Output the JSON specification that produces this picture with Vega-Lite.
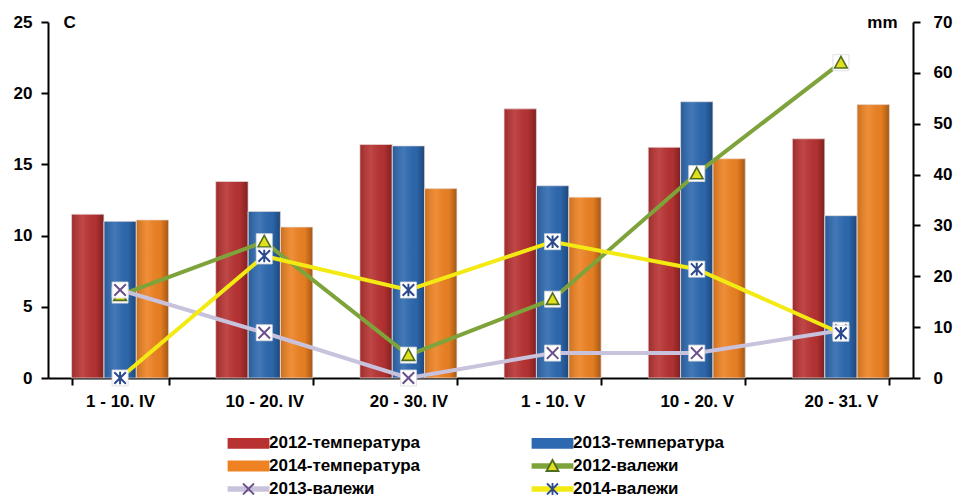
{
  "$schema": "https://vega.github.io/schema/vega-lite/v6.json",
  "width": 865,
  "height": 356,
  "autosize": {"type": "none"},
  "padding": {"left": 48, "top": 22, "right": 44, "bottom": 117},
  "background": "white",
  "config": {
    "view": {"stroke": null},
    "font": "Liberation Sans",
    "axis": {
      "domainColor": "black",
      "domainWidth": 2,
      "tickColor": "black",
      "tickWidth": 2,
      "tickSize": 7,
      "labelFont": "Liberation Sans",
      "labelFontSize": 17,
      "labelFontWeight": "bold",
      "labelColor": "black",
      "titleFont": "Liberation Sans",
      "titleFontSize": 17,
      "titleFontWeight": "bold",
      "titleColor": "black",
      "grid": false
    }
  },
  "datasets": {
    "temp": [
      {"cat": "1 - 10. IV", "series": "2012-температура", "value": 11.5},
      {"cat": "1 - 10. IV", "series": "2013-температура", "value": 11.0},
      {"cat": "1 - 10. IV", "series": "2014-температура", "value": 11.1},
      {"cat": "10 - 20. IV", "series": "2012-температура", "value": 13.8},
      {"cat": "10 - 20. IV", "series": "2013-температура", "value": 11.7},
      {"cat": "10 - 20. IV", "series": "2014-температура", "value": 10.6},
      {"cat": "20 - 30. IV", "series": "2012-температура", "value": 16.4},
      {"cat": "20 - 30. IV", "series": "2013-температура", "value": 16.3},
      {"cat": "20 - 30. IV", "series": "2014-температура", "value": 13.3},
      {"cat": "1 - 10. V", "series": "2012-температура", "value": 18.9},
      {"cat": "1 - 10. V", "series": "2013-температура", "value": 13.5},
      {"cat": "1 - 10. V", "series": "2014-температура", "value": 12.7},
      {"cat": "10 - 20. V", "series": "2012-температура", "value": 16.2},
      {"cat": "10 - 20. V", "series": "2013-температура", "value": 19.4},
      {"cat": "10 - 20. V", "series": "2014-температура", "value": 15.4},
      {"cat": "20 - 31. V", "series": "2012-температура", "value": 16.8},
      {"cat": "20 - 31. V", "series": "2013-температура", "value": 11.4},
      {"cat": "20 - 31. V", "series": "2014-температура", "value": 19.2}
    ],
    "precip": [
      {"cat": "1 - 10. IV", "series": "2012-валежи", "value": 16.3},
      {"cat": "10 - 20. IV", "series": "2012-валежи", "value": 26.8},
      {"cat": "20 - 30. IV", "series": "2012-валежи", "value": 4.5},
      {"cat": "1 - 10. V", "series": "2012-валежи", "value": 15.5},
      {"cat": "10 - 20. V", "series": "2012-валежи", "value": 40.2},
      {"cat": "20 - 31. V", "series": "2012-валежи", "value": 62.0},
      {"cat": "1 - 10. IV", "series": "2013-валежи", "value": 17.3},
      {"cat": "10 - 20. IV", "series": "2013-валежи", "value": 8.9},
      {"cat": "20 - 30. IV", "series": "2013-валежи", "value": 0},
      {"cat": "1 - 10. V", "series": "2013-валежи", "value": 4.9},
      {"cat": "10 - 20. V", "series": "2013-валежи", "value": 4.9},
      {"cat": "20 - 31. V", "series": "2013-валежи", "value": 9.4},
      {"cat": "1 - 10. IV", "series": "2014-валежи", "value": 0},
      {"cat": "10 - 20. IV", "series": "2014-валежи", "value": 24.0},
      {"cat": "20 - 30. IV", "series": "2014-валежи", "value": 17.3},
      {"cat": "1 - 10. V", "series": "2014-валежи", "value": 26.8},
      {"cat": "10 - 20. V", "series": "2014-валежи", "value": 21.4},
      {"cat": "20 - 31. V", "series": "2014-валежи", "value": 8.8}
    ]
  },
  "layer": [
    {
      "data": {"name": "temp"},
      "layer": [
        {
          "mark": {"type": "bar"},
          "encoding": {
            "x": {
              "field": "cat", "type": "nominal",
              "sort": ["1 - 10. IV", "10 - 20. IV", "20 - 30. IV", "1 - 10. V", "10 - 20. V", "20 - 31. V"],
              "scale": {"paddingInner": 0.327, "paddingOuter": 0.1635},
              "axis": {"title": null, "labelAngle": 0, "labelPadding": 8, "tickBand": "extent", "labelLimit": 300}
            },
            "xOffset": {
              "field": "series", "type": "nominal",
              "sort": ["2012-температура", "2013-температура", "2014-температура"],
              "scale": {"paddingInner": 0, "paddingOuter": 0}
            },
            "y": {
              "field": "value", "type": "quantitative",
              "scale": {"domain": [0, 25], "nice": false},
              "axis": {
                "values": [0, 5, 10, 15, 20, 25],
                "title": "C",
                "titleAngle": 0,
                "titleAlign": "left",
                "titleBaseline": "middle",
                "titleX": 15,
                "titleY": 0,
                "labelPadding": 9
              }
            },
            "color": {
              "field": "series", "type": "nominal",
              "scale": {
                "domain": ["2012-температура", "2013-температура", "2014-температура", "2012-валежи", "2013-валежи", "2014-валежи"],
                "range": ["#b83232", "#2d69b0", "#ee8222", "#7ea33b", "#c9c2dd", "#f2ea12"]
              },
              "legend": {
                "orient": "none",
                "direction": "horizontal",
                "legendX": 192,
                "legendY": 412.5,
                "columns": 2,
                "columnPadding": 108,
                "rowPadding": 2,
                "padding": 0,
                "title": null,
                "symbolSize": 100,
                "symbolStrokeWidth": 1.8,
                "labelOffset": 12,
                "labelFont": "Liberation Sans",
                "labelFontSize": 17,
                "labelFontWeight": "bold",
                "labelColor": "black",
                "labelLimit": 400,
                "zindex": 0,
                "encode": {
                  "symbols": {
                    "update": {
                      "shape": {"signal": "indexof(datum.value, 'темп') >= 0 ? 'M-4,-0.9H4V0.9H-4ZM0,-1.2L0,-1.2M0,1.2L0,1.2' : 'M-4,-0.35H4V0.35H-4ZM0,-1.2L0,-1.2M0,1.2L0,1.2'"},
                      "fill": {"scale": "color", "field": "value"},
                      "stroke": {"value": "transparent"},
                      "opacity": {"value": 1}
                    }
                  }
                }
              }
            }
          }
        },
        {
          "mark": {
            "type": "bar",
            "stroke": "#eadede",
            "strokeWidth": 0.7,
            "fill": {
              "gradient": "linear", "x1": 0, "y1": 0, "x2": 1, "y2": 0,
              "stops": [
                {"offset": 0, "color": "rgba(0,0,0,0.15)"},
                {"offset": 0.35, "color": "rgba(255,255,255,0.1)"},
                {"offset": 0.75, "color": "rgba(0,0,0,0.04)"},
                {"offset": 1, "color": "rgba(0,0,0,0.32)"}
              ]
            }
          },
          "encoding": {
            "x": {
              "field": "cat", "type": "nominal",
              "sort": ["1 - 10. IV", "10 - 20. IV", "20 - 30. IV", "1 - 10. V", "10 - 20. V", "20 - 31. V"]
            },
            "xOffset": {
              "field": "series", "type": "nominal",
              "sort": ["2012-температура", "2013-температура", "2014-температура"]
            },
            "y": {"field": "value", "type": "quantitative"}
          }
        }
      ]
    },
    {
      "data": {"name": "precip"},
      "layer": [
        {
          "mark": {"type": "line", "strokeWidth": 4},
          "encoding": {
            "x": {
              "field": "cat", "type": "nominal",
              "sort": ["1 - 10. IV", "10 - 20. IV", "20 - 30. IV", "1 - 10. V", "10 - 20. V", "20 - 31. V"]
            },
            "y": {
              "field": "value", "type": "quantitative",
              "scale": {"domain": [0, 70], "nice": false},
              "axis": {
                "orient": "right",
                "values": [0, 10, 20, 30, 40, 50, 60, 70],
                "title": "mm",
                "titleAngle": 0,
                "titleAlign": "right",
                "titleBaseline": "middle",
                "titleX": -16,
                "titleY": 0,
                "labelPadding": 13
              }
            },
            "color": {"field": "series", "type": "nominal", "legend": null}
          }
        },
        {
          "transform": [{"filter": "datum.series == '2012-валежи'"}],
          "mark": {"type": "point", "shape": "square", "size": 256, "filled": true, "fill": "white", "stroke": "#d9d9d9", "strokeWidth": 0.8, "opacity": 1},
          "encoding": {
            "x": {"field": "cat", "type": "nominal", "sort": ["1 - 10. IV", "10 - 20. IV", "20 - 30. IV", "1 - 10. V", "10 - 20. V", "20 - 31. V"]},
            "y": {"field": "value", "type": "quantitative"}
          }
        },
        {
          "transform": [{"filter": "datum.series == '2012-валежи'"}],
          "mark": {"type": "point", "size": 110, "filled": true, "strokeWidth": 1.6, "opacity": 1},
          "encoding": {
            "x": {"field": "cat", "type": "nominal", "sort": ["1 - 10. IV", "10 - 20. IV", "20 - 30. IV", "1 - 10. V", "10 - 20. V", "20 - 31. V"]},
            "y": {"field": "value", "type": "quantitative"},
            "shape": {
              "field": "series", "type": "nominal",
              "scale": {
                "domain": ["2012-температура", "2013-температура", "2014-температура", "2012-валежи", "2013-валежи", "2014-валежи", "~"],
                "range": [
                  "M-4,0L-4,0M4,0L4,0M0,-1.2L0,-1.2M0,1.2L0,1.2",
                  "M-4,0L-4,0M4,0L4,0M0,-1.2L0,-1.2M0,1.2L0,1.2",
                  "M-4,0L-4,0M4,0L4,0M0,-1.2L0,-1.2M0,1.2L0,1.2",
                  "M0,-1.2L1.2,1L-1.2,1ZM-4,0L-4,0M4,0L4,0M0,1.2L0,1.2",
                  "M-1.1,-1.1L1.1,1.1M1.1,-1.1L-1.1,1.1M-4,0L-4,0M4,0L4,0M0,-1.2L0,-1.2M0,1.2L0,1.2",
                  "M-1.1,-1.1L1.1,1.1M1.1,-1.1L-1.1,1.1M0,-1.2L0,1.2M-4,0L-4,0M4,0L4,0",
                  "M0,0L0,0"
                ]
              },
              "legend": {
                "orient": "none",
                "direction": "horizontal",
                "legendX": 192,
                "legendY": 412.5,
                "columns": 2,
                "columnPadding": 108,
                "rowPadding": 2,
                "padding": 0,
                "title": null,
                "symbolSize": 100,
                "symbolStrokeWidth": 1.8,
                "symbolOpacity": 1,
                "labelOffset": 12,
                "labelFont": "Liberation Sans",
                "labelFontSize": 17,
                "labelFontWeight": "bold",
                "labelColor": "transparent",
                "labelLimit": 400,
                "zindex": 1
              }
            },
            "fill": {
              "field": "series", "type": "nominal",
              "scale": {
                "domain": ["2012-температура", "2013-температура", "2014-температура", "2012-валежи", "2013-валежи", "2014-валежи", "~"],
                "range": ["transparent", "transparent", "transparent", "#e2e01c", "transparent", "transparent", "transparent"]
              },
              "legend": {
                "orient": "none",
                "direction": "horizontal",
                "legendX": 192,
                "legendY": 412.5,
                "columns": 2,
                "columnPadding": 108,
                "rowPadding": 2,
                "padding": 0,
                "title": null,
                "symbolSize": 100,
                "symbolStrokeWidth": 1.8,
                "symbolOpacity": 1,
                "labelOffset": 12,
                "labelFont": "Liberation Sans",
                "labelFontSize": 17,
                "labelFontWeight": "bold",
                "labelColor": "transparent",
                "labelLimit": 400,
                "zindex": 1
              }
            },
            "stroke": {
              "field": "series", "type": "nominal",
              "scale": {
                "domain": ["2012-температура", "2013-температура", "2014-температура", "2012-валежи", "2013-валежи", "2014-валежи", "~"],
                "range": ["transparent", "transparent", "transparent", "#4e6d20", "#6a4f8c", "#2b4a8c", "transparent"]
              },
              "legend": {
                "orient": "none",
                "direction": "horizontal",
                "legendX": 192,
                "legendY": 412.5,
                "columns": 2,
                "columnPadding": 108,
                "rowPadding": 2,
                "padding": 0,
                "title": null,
                "symbolSize": 100,
                "symbolStrokeWidth": 1.8,
                "symbolOpacity": 1,
                "labelOffset": 12,
                "labelFont": "Liberation Sans",
                "labelFontSize": 17,
                "labelFontWeight": "bold",
                "labelColor": "transparent",
                "labelLimit": 400,
                "zindex": 1
              }
            }
          }
        },
        {
          "transform": [{"filter": "datum.series == '2013-валежи'"}],
          "mark": {"type": "point", "shape": "square", "size": 256, "filled": true, "fill": "white", "stroke": "#d9d9d9", "strokeWidth": 0.8, "opacity": 1},
          "encoding": {
            "x": {"field": "cat", "type": "nominal", "sort": ["1 - 10. IV", "10 - 20. IV", "20 - 30. IV", "1 - 10. V", "10 - 20. V", "20 - 31. V"]},
            "y": {"field": "value", "type": "quantitative"}
          }
        },
        {
          "transform": [{"filter": "datum.series == '2013-валежи'"}],
          "mark": {"type": "point", "size": 110, "filled": true, "strokeWidth": 2, "opacity": 1},
          "encoding": {
            "x": {"field": "cat", "type": "nominal", "sort": ["1 - 10. IV", "10 - 20. IV", "20 - 30. IV", "1 - 10. V", "10 - 20. V", "20 - 31. V"]},
            "y": {"field": "value", "type": "quantitative"},
            "shape": {"field": "series", "type": "nominal", "legend": null},
            "fill": {"field": "series", "type": "nominal", "legend": null},
            "stroke": {"field": "series", "type": "nominal", "legend": null}
          }
        },
        {
          "transform": [{"filter": "datum.series == '2014-валежи'"}],
          "mark": {"type": "point", "shape": "square", "size": 256, "filled": true, "fill": "white", "stroke": "#d9d9d9", "strokeWidth": 0.8, "opacity": 1},
          "encoding": {
            "x": {"field": "cat", "type": "nominal", "sort": ["1 - 10. IV", "10 - 20. IV", "20 - 30. IV", "1 - 10. V", "10 - 20. V", "20 - 31. V"]},
            "y": {"field": "value", "type": "quantitative"}
          }
        },
        {
          "transform": [{"filter": "datum.series == '2014-валежи'"}],
          "mark": {"type": "point", "size": 110, "filled": true, "strokeWidth": 2, "opacity": 1},
          "encoding": {
            "x": {"field": "cat", "type": "nominal", "sort": ["1 - 10. IV", "10 - 20. IV", "20 - 30. IV", "1 - 10. V", "10 - 20. V", "20 - 31. V"]},
            "y": {"field": "value", "type": "quantitative"},
            "shape": {"field": "series", "type": "nominal", "legend": null},
            "fill": {"field": "series", "type": "nominal", "legend": null},
            "stroke": {"field": "series", "type": "nominal", "legend": null}
          }
        }
      ]
    }
  ],
  "resolve": {"scale": {"y": "independent"}}
}
